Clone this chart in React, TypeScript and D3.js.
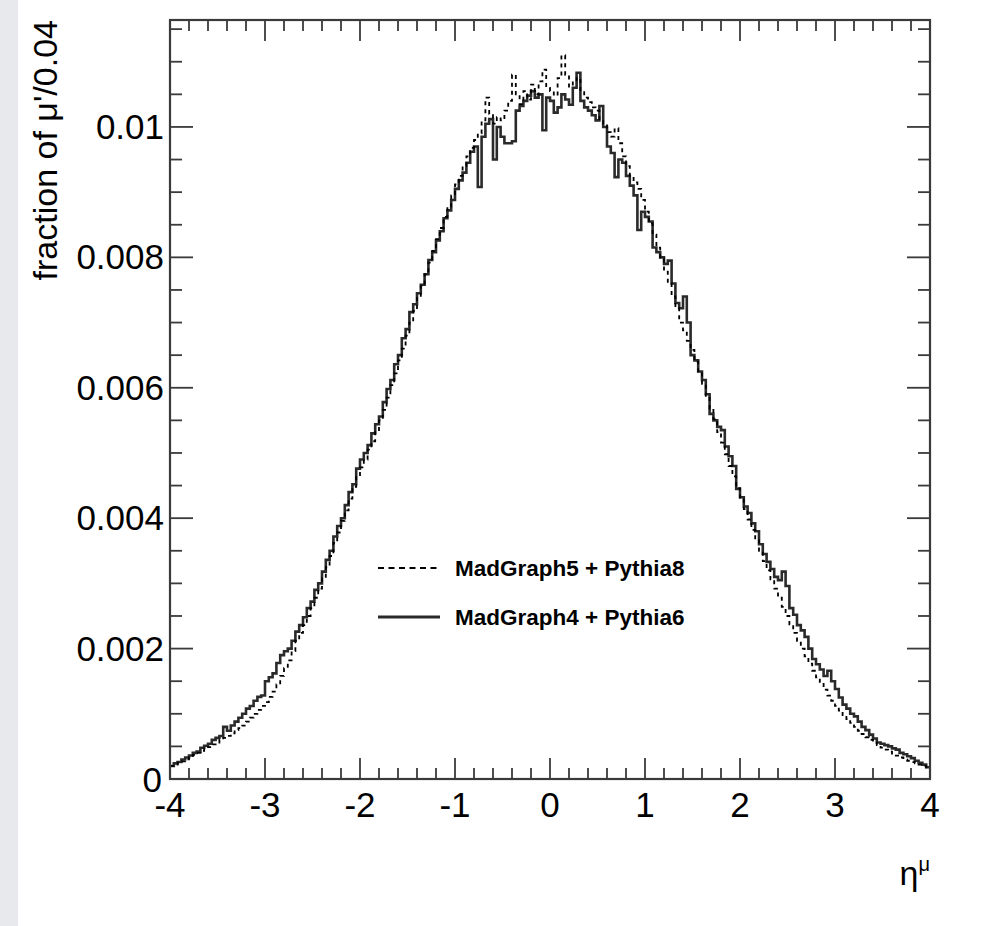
import React, { useEffect, useRef } from 'react';
import * as d3 from 'd3';

// bin contents, in units of 1e-5 (fraction of muons per 0.04 in eta), 200 bins from -4 to 4
const madgraph4Pythia6 = [
  20, 24, 26, 30, 33, 36, 40, 42, 48, 51, 54, 60, 63, 66, 80, 74, 82, 88, 94, 100, 108, 112, 120, 126, 128,
  150, 156, 162, 178, 190, 196, 200, 212, 226, 236, 248, 262, 272, 290, 300, 318, 336, 350, 372, 388, 400, 420, 440, 452, 476,
  490, 500, 512, 530, 544, 556, 578, 598, 612, 636, 650, 676, 690, 716, 728, 745, 758, 774, 796, 808, 826, 840, 860, 872, 888,
  905, 918, 930, 945, 962, 970, 908, 985, 1005, 1012, 950, 1000, 985, 975, 975, 978, 1025, 1032, 1040, 1048, 1055, 1045, 1050, 995, 1045,
  1040, 1022, 1030, 1050, 1042, 1034, 1060, 1083, 1040, 1030, 1025, 1018, 1010, 1032, 1000, 970, 960, 923, 950, 945, 925, 910, 895, 842, 870,
  862, 855, 815, 808, 800, 790, 795, 760, 730, 722, 740, 700, 650, 642, 625, 612, 590, 560, 550, 540, 535, 510, 495, 480, 445,
  432, 418, 408, 392, 380, 360, 345, 333, 322, 310, 305, 318, 296, 262, 252, 236, 228, 218, 200, 184, 176, 168, 158, 166, 150,
  138, 125, 114, 108, 100, 96, 88, 80, 75, 68, 62, 56, 54, 52, 50, 47, 45, 40, 38, 35, 32, 28, 25, 22, 18,
];

const madgraph5Pythia8 = [
  20, 22, 25, 27, 30, 33, 37, 40, 43, 47, 49, 53, 56, 60, 63, 66, 70, 75, 78, 82, 88, 94, 100, 106, 112,
  118, 126, 134, 145, 158, 170, 182, 196, 212, 224, 236, 250, 262, 278, 292, 308, 325, 342, 362, 378, 396, 412, 430, 448, 466,
  478, 490, 505, 518, 532, 550, 566, 585, 604, 622, 642, 660, 680, 700, 718, 738, 756, 774, 792, 810, 828, 845, 862, 878, 895,
  912, 925, 940, 955, 968, 980, 990, 1010, 1045, 1020, 1005, 1015, 1010, 1025, 1040, 1080, 1050, 1035, 1055, 1042, 1065, 1050, 1070, 1088, 1060,
  1055, 1048, 1075, 1110, 1080, 1062, 1070, 1075, 1055, 1045, 1038, 1030, 1025, 1012, 1005, 992, 985, 998, 975, 955, 940, 925, 915, 905, 888,
  870, 852, 835, 815, 798, 778, 760, 740, 722, 700, 688, 672, 658, 640, 622, 606, 586, 568, 552, 532, 516, 498, 480, 464, 446,
  430, 414, 398, 382, 366, 350, 334, 320, 306, 292, 278, 264, 250, 237, 224, 212, 200, 188, 177, 166, 156, 146, 137, 128, 120,
  112, 105, 98, 92, 86, 80, 74, 69, 64, 60, 56, 52, 48, 45, 42, 39, 36, 33, 30, 28, 26, 24, 22, 20, 18,
];

const UNIT = 1e-5;
const etaMin = -4;
const etaMax = 4;
const binWidth = 0.04;

const xTickValues = [-4, -3, -2, -1, 0, 1, 2, 3, 4];
const yTickValues = [0, 0.002, 0.004, 0.006, 0.008, 0.01];
const yTickLabels = ['0', '0.002', '0.004', '0.006', '0.008', '0.01'];
const legendLabels = ['MadGraph5 + Pythia8', 'MadGraph4 + Pythia6'];

const FONT = '"Liberation Sans", Arial, Helvetica, sans-serif';

export default function App() {
  const ref = useRef<SVGSVGElement>(null);

  useEffect(() => {
    const width = 998;
    const height = 926;
    const margin = { top: 20, right: 68, bottom: 147, left: 170 };
    const plotW = width - margin.left - margin.right;
    const plotH = height - margin.top - margin.bottom;

    const root = d3.select(ref.current);
    root.selectAll('*').remove();

    // page background + gray strip on the left
    root.append('rect').attr('width', width).attr('height', height).attr('fill', '#ffffff');
    root.append('rect').attr('width', 18).attr('height', height).attr('fill', '#e8e9ec');

    const svg = root.append('g').attr('transform', `translate(${margin.left},${margin.top})`);

    const x = d3.scaleLinear().domain([etaMin, etaMax]).range([0, plotW]);
    const y = d3.scaleLinear().domain([0, 0.01164]).range([plotH, 0]);

    // histograms as step lines
    const stepLine = d3.line<[number, number]>()
      .x(d => x(d[0]))
      .y(d => y(d[1]))
      .curve(d3.curveStepAfter);

    const toPoints = (vals: number[]): [number, number][] => {
      const pts: [number, number][] = vals.map((v, i) => [etaMin + i * binWidth, v * UNIT]);
      pts.push([etaMax, vals[vals.length - 1] * UNIT]);
      return pts;
    };

    svg.append('path')
      .attr('d', stepLine(toPoints(madgraph4Pythia6)))
      .attr('fill', 'none')
      .attr('stroke', '#2a2a2a')
      .attr('stroke-width', 2.6);

    svg.append('path')
      .attr('d', stepLine(toPoints(madgraph5Pythia8)))
      .attr('fill', 'none')
      .attr('stroke', '#000')
      .attr('stroke-width', 1.8)
      .attr('stroke-dasharray', '4,4');

    // frame
    svg.append('rect')
      .attr('width', plotW)
      .attr('height', plotH)
      .attr('fill', 'none')
      .attr('stroke', '#3a3a3a')
      .attr('stroke-width', 2.2);

    // ticks on all four sides
    const ticks = svg.append('g').attr('stroke', '#3a3a3a').attr('stroke-width', 1.8);
    const xMinor = d3.range(etaMin, etaMax + 1e-9, 0.2);
    xMinor.forEach(v => {
      const major = Math.abs(v - Math.round(v)) < 1e-6;
      const len = major ? 21 : 11;
      ticks.append('line').attr('x1', x(v)).attr('x2', x(v)).attr('y1', plotH).attr('y2', plotH - len);
      ticks.append('line').attr('x1', x(v)).attr('x2', x(v)).attr('y1', 0).attr('y2', len);
    });
    const yMinor = d3.range(0, 0.01164, 0.0005);
    yMinor.forEach((v, i) => {
      const major = i % 4 === 0;
      const len = major ? 23 : 12;
      ticks.append('line').attr('x1', 0).attr('x2', len).attr('y1', y(v)).attr('y2', y(v));
      ticks.append('line').attr('x1', plotW).attr('x2', plotW - len).attr('y1', y(v)).attr('y2', y(v));
    });

    // tick labels
    svg.selectAll('.xlab')
      .data(xTickValues)
      .join('text')
      .attr('class', 'xlab')
      .attr('x', d => x(d))
      .attr('y', plotH + 38)
      .attr('text-anchor', 'middle')
      .attr('font-family', FONT)
      .attr('font-size', 35)
      .attr('fill', '#000')
      .text(d => String(d));

    svg.selectAll('.ylab')
      .data(yTickValues)
      .join('text')
      .attr('class', 'ylab')
      .attr('x', (d, i) => (i === 0 ? -8 : -6))
      .attr('y', (d, i) => y(d) + (i === 0 ? 13 : 12))
      .attr('text-anchor', 'end')
      .attr('font-family', FONT)
      .attr('font-size', 35)
      .attr('fill', '#000')
      .text((d, i) => yTickLabels[i]);

    // y axis title
    root.append('text')
      .attr('transform', `translate(57, ${margin.top}) rotate(-90)`)
      .attr('text-anchor', 'end')
      .attr('font-family', FONT)
      .attr('font-size', 34)
      .attr('fill', '#000')
      .text("fraction of \u03BC'/0.04");

    // x axis title
    const xt = root.append('text')
      .attr('x', margin.left + plotW)
      .attr('y', 885)
      .attr('text-anchor', 'end')
      .attr('font-family', FONT)
      .attr('fill', '#000');
    xt.append('tspan').attr('font-size', 34).text('\u03B7');
    xt.append('tspan').attr('font-size', 20).attr('dy', -14).text('\u03BC');

    // legend
    const legend = root.append('g');
    const legendY = [568, 617];
    legend.append('line')
      .attr('x1', 378).attr('x2', 440).attr('y1', legendY[0]).attr('y2', legendY[0])
      .attr('stroke', '#000').attr('stroke-width', 1.8).attr('stroke-dasharray', '6,4.5');
    legend.append('line')
      .attr('x1', 378).attr('x2', 440).attr('y1', legendY[1]).attr('y2', legendY[1])
      .attr('stroke', '#2a2a2a').attr('stroke-width', 3);
    legendLabels.forEach((label, i) => {
      legend.append('text')
        .attr('x', 455)
        .attr('y', legendY[i] + 8)
        .attr('font-family', FONT)
        .attr('font-weight', 'bold')
        .attr('font-size', 22.5)
        .attr('fill', '#000')
        .text(label);
    });
  }, []);

  return (
    <svg
      ref={ref}
      width={998}
      height={926}
      style={{ position: 'absolute', left: 0, top: 0, display: 'block' }}
    />
  );
}
